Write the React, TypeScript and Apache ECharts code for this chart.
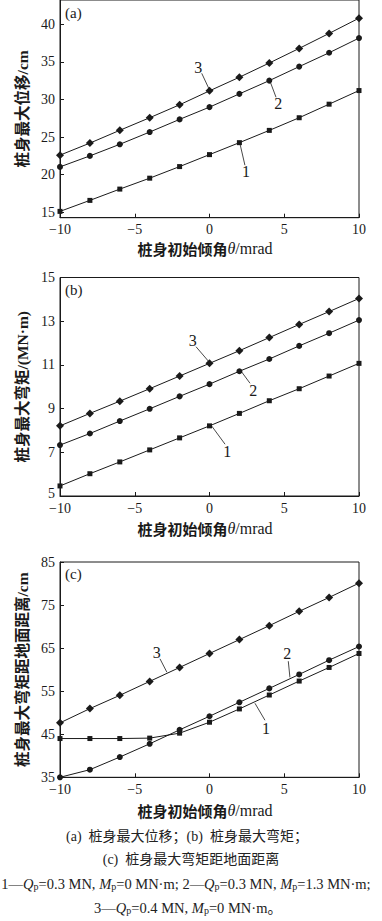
import React, { useEffect, useRef } from "react";
import * as echarts from "echarts";

const thetaValues = [-10, -8, -6, -4, -2, 0, 2, 4, 6, 8, 10];

// (a) 桩身最大位移 / cm
const dispCase1 = [15.13, 16.59, 18.09, 19.54, 21.08, 22.67, 24.26, 25.89, 27.57, 29.37, 31.18];
const dispCase2 = [21.04, 22.5, 24.04, 25.67, 27.35, 28.98, 30.74, 32.5, 34.36, 36.2, 38.15];
const dispCase3 = [22.6, 24.2, 25.9, 27.57, 29.29, 31.14, 32.95, 34.84, 36.78, 38.77, 40.8];

// (b) 桩身最大弯矩 / (MN·m)
const momCase1 = [5.46, 6.02, 6.56, 7.11, 7.66, 8.21, 8.78, 9.36, 9.91, 10.49, 11.07];
const momCase2 = [7.33, 7.86, 8.43, 8.99, 9.56, 10.12, 10.71, 11.27, 11.87, 12.45, 13.05];
const momCase3 = [8.21, 8.78, 9.34, 9.91, 10.49, 11.07, 11.65, 12.25, 12.85, 13.44, 14.04];

// (c) 桩身最大弯矩距地面距离 / cm
const depCase1 = [44.0, 44.0, 44.0, 44.1, 45.25, 47.79, 50.88, 54.11, 57.35, 60.51, 63.75];
const depCase2 = [35.0, 36.77, 39.7, 42.78, 46.02, 49.18, 52.42, 55.65, 58.89, 62.2, 65.37];
const depCase3 = [47.64, 50.95, 54.04, 57.27, 60.51, 63.75, 66.98, 70.22, 73.54, 76.77, 80.09];

const xTicks = [-10, -5, 0, 5, 10];
const yTicksA = [15, 20, 25, 30, 35, 40];
const yTicksB = [5, 7, 9, 11, 13, 15];
const yTicksC = [35, 45, 55, 65, 75, 85];

const panelLetters = ["(a)", "(b)", "(c)"];
const yTitles = ["桩身最大位移/cm", "桩身最大弯矩/(MN·m)", "桩身最大弯矩距地面距离/cm"];

// curve labels: [grid, text, textX, textY, fromX, fromY, toX, toY]
const curveLabels: [number, string, number, number, number, number, number, number][] = [
  [0, "3", -0.75, 34.3, -0.52, 33.47, -0.02, 31.35],
  [0, "2", 4.6, 29.42, 4.45, 30.29, 4.05, 32.4],
  [0, "1", 2.44, 20.37, 2.37, 21.26, 2.04, 24.1],
  [1, "3", -1.12, 12.11, -0.9, 11.83, -0.01, 11.12],
  [1, "2", 2.93, 9.85, 2.71, 10.16, 2.15, 10.68],
  [1, "1", 1.19, 7.05, 1.04, 7.37, 0.15, 8.2],
  [2, "3", -3.53, 64.04, -3.31, 62.51, -2.85, 59.4],
  [2, "2", 5.2, 63.67, 5.27, 61.96, 5.38, 58.2],
  [2, "1", 3.78, 46.33, 3.71, 48.25, 3.04, 52.2],
];

const SERIF = "'Liberation Serif', 'Noto Sans CJK SC', serif";
const INK = "#1a1a1a";

const grids = [
  { left: 60, width: 299, top: -1, height: 218.7 },
  { left: 60, width: 299, top: 277.5, height: 218.5 },
  { left: 60, width: 299, top: 562, height: 215.3 },
];
const yRanges = [
  [14.29, 43.21],
  [5, 15],
  [35, 85],
];
const yTicks = [yTicksA, yTicksB, yTicksC];
const xNameGaps = [23, 24, 25];
const yNameGaps = [27, 27, 25];

const fmt = (v: number) => (v < 0 ? "\u2212" + Math.abs(v) : String(v));

function lineSeries(grid: number, values: number[], symbol: string, size: number) {
  return {
    type: "line",
    xAxisIndex: grid,
    yAxisIndex: grid,
    data: thetaValues.map((x, i) => [x, values[i]]),
    symbol,
    symbolSize: size,
    showAllSymbol: true,
    lineStyle: { color: INK, width: 1 },
    itemStyle: { color: INK },
    emphasis: { disabled: true },
    silent: true,
    z: 3,
  };
}

export default function App() {
  const ref = useRef<HTMLDivElement>(null);
  useEffect(() => {
    if (!ref.current) return;
    const chart = echarts.init(ref.current, undefined, { renderer: "svg" });
    const option: any = {
      animation: false,
      backgroundColor: "#ffffff",
      grid: grids.map((g) => ({ ...g, containLabel: false, show: true, borderColor: INK, borderWidth: 1, backgroundColor: "transparent" })),
      xAxis: grids.map((_, i) => ({
        type: "value",
        gridIndex: i,
        min: -10,
        max: 10,
        interval: 5,
        name: "{a|桩身初始倾角}{i|θ}{b|/mrad}",
        nameLocation: "middle",
        nameGap: xNameGaps[i],
        nameTextStyle: {
          padding: [0, 9, 0, 0],
          rich: {
            a: { fontFamily: "'Noto Sans CJK SC'", fontSize: 15, fontWeight: "bold", color: INK },
            i: { fontFamily: SERIF, fontSize: 16, fontStyle: "italic", color: INK },
            b: { fontFamily: SERIF, fontSize: 16, color: INK },
          },
        },
        axisLine: { show: true, onZero: false, lineStyle: { color: INK, width: 1 } },
        axisTick: { show: true, inside: true, length: 4, lineStyle: { color: INK }, customValues: xTicks },
        axisLabel: { fontFamily: SERIF, fontSize: 14, color: INK, margin: 5, formatter: fmt, customValues: xTicks },
        splitLine: { show: false },
      })),
      yAxis: grids.map((_, i) => ({
        type: "value",
        gridIndex: i,
        min: yRanges[i][0],
        max: yRanges[i][1],
        name: yTitles[i],
        nameLocation: "middle",
        nameGap: yNameGaps[i],
        nameTextStyle: { fontFamily: SERIF, fontSize: 15.5, fontWeight: "bold", color: INK },
        axisLine: { show: true, onZero: false, lineStyle: { color: INK, width: 1 } },
        axisTick: { show: true, inside: true, length: 4, lineStyle: { color: INK }, customValues: yTicks[i] },
        axisLabel: {
          fontFamily: SERIF,
          fontSize: 14,
          color: INK,
          margin: 5,
          customValues: yTicks[i],
          formatter: (v: number) => (i === 1 && v === 5 ? "{lo|5}" : fmt(v)),
          rich: { lo: { fontFamily: SERIF, fontSize: 14, color: INK, padding: [0, 0, 6, 0] } },
          showMinLabel: true,
          showMaxLabel: true,
        },
        splitLine: { show: false },
      })),
      series: [
        lineSeries(0, dispCase1, "rect", 5),
        lineSeries(0, dispCase2, "circle", 6),
        lineSeries(0, dispCase3, "diamond", 8),
        lineSeries(1, momCase1, "rect", 5),
        lineSeries(1, momCase2, "circle", 6),
        lineSeries(1, momCase3, "diamond", 8),
        lineSeries(2, depCase1, "rect", 5),
        lineSeries(2, depCase2, "circle", 6),
        lineSeries(2, depCase3, "diamond", 8),
      ],
    };
    chart.setOption(option);

    const graphics: any[] = [];
    curveLabels.forEach(([g, t, tx, ty, fx, fy, ex, ey]) => {
      const tp = chart.convertToPixel({ gridIndex: g }, [tx, ty]) as number[];
      const fp = chart.convertToPixel({ gridIndex: g }, [fx, fy]) as number[];
      const ep = chart.convertToPixel({ gridIndex: g }, [ex, ey]) as number[];
      graphics.push({
        type: "text",
        x: tp[0],
        y: tp[1],
        style: { text: t, fontFamily: SERIF, fontSize: 16, fill: INK, align: "center", verticalAlign: "middle" },
        silent: true,
        z: 10,
      });
      graphics.push({
        type: "line",
        shape: { x1: fp[0], y1: fp[1], x2: ep[0], y2: ep[1] },
        style: { stroke: INK, lineWidth: 0.8 },
        silent: true,
        z: 10,
      });
    });
    grids.forEach((g, i) => {
      graphics.push({
        type: "text",
        x: g.left + 5,
        y: g.top + (i === 0 ? 13.5 : 12),
        style: { text: panelLetters[i], fontFamily: SERIF, fontSize: 15, fill: INK, align: "left", verticalAlign: "middle" },
        silent: true,
        z: 10,
      });
    });

    const capCJK = { fontFamily: SERIF, fontSize: 14, fill: "#222" };
    graphics.push({
      type: "text",
      x: 187,
      y: 836,
      style: { ...capCJK, text: "(a)  桩身最大位移；(b)  桩身最大弯矩；", align: "center", verticalAlign: "middle" },
      silent: true,
    });
    graphics.push({
      type: "text",
      x: 191,
      y: 859,
      style: { ...capCJK, text: "(c)  桩身最大弯矩距地面距离", align: "center", verticalAlign: "middle" },
      silent: true,
    });
    const rich = {
      n: { fontFamily: SERIF, fontSize: 14.5, fill: "#222", lineHeight: 14, verticalAlign: "middle" },
      it: { fontFamily: SERIF, fontSize: 14.5, fontStyle: "italic", fill: "#222", lineHeight: 14, verticalAlign: "middle" },
      s: { fontFamily: SERIF, fontSize: 10, fill: "#222", lineHeight: 9, verticalAlign: "bottom" },
    };
    graphics.push({
      type: "text",
      x: 186,
      y: 884,
      style: {
        text: "{n|1—}{it|Q}{s|p}{n|=0.3 MN, }{it|M}{s|p}{n|=0 MN·m; 2—}{it|Q}{s|p}{n|=0.3 MN, }{it|M}{s|p}{n|=1.3 MN·m;}",
        rich,
        align: "center",
        verticalAlign: "middle",
        lineHeight: 18,
      },
      silent: true,
    });
    graphics.push({
      type: "text",
      x: 188,
      y: 908,
      style: {
        text: "{n|3—}{it|Q}{s|p}{n|=0.4 MN, }{it|M}{s|p}{n|=0 MN·m。}",
        rich,
        align: "center",
        verticalAlign: "middle",
        lineHeight: 18,
      },
      silent: true,
    });
    chart.setOption({ graphic: graphics });

    return () => chart.dispose();
  }, []);
  return (
    <div
      ref={ref}
      style={{ position: "absolute", left: 0, top: 0, width: 382, height: 921, background: "#fff" }}
    />
  );
}
